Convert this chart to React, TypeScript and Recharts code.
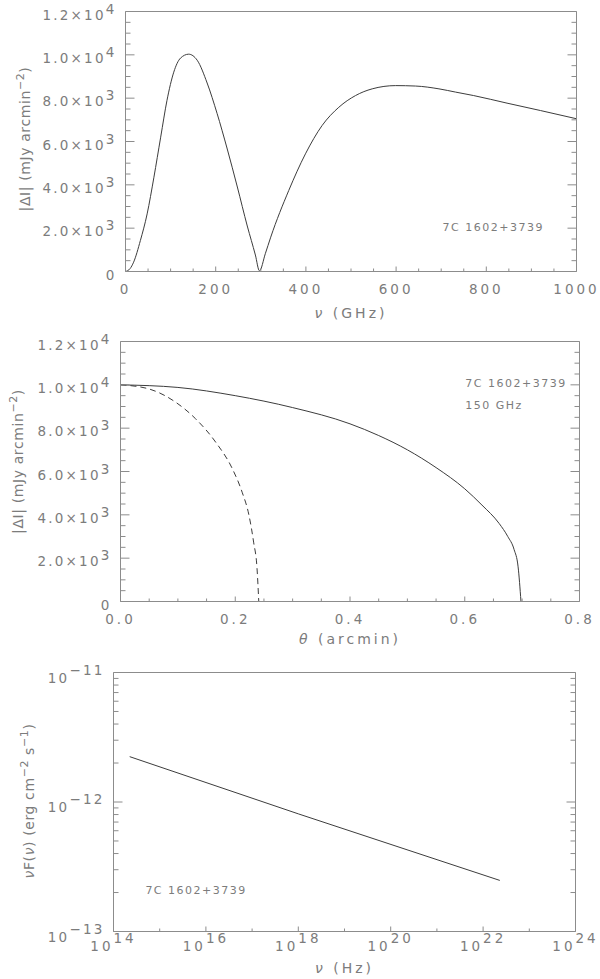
import { LineChart, Line, XAxis, YAxis, ReferenceDot } from 'recharts'

const AXIS = '#8c8c8c'
const TEXT = '#7c7c7c'
const INK = '#3c3c3c'
const FONT = '"DejaVu Sans", Verdana, sans-serif'

// top panel: |ΔI| against frequency
const specNu = [0, 10, 18, 33, 48, 63, 78, 92, 107, 122, 140, 159, 181, 203, 225, 248, 270, 288, 297, 310, 322, 362, 399, 436, 473, 510, 547, 599, 643, 695, 732, 772, 846, 920, 1000]
const specDI = [0, 130, 430, 1430, 2660, 4350, 6200, 7900, 9200, 9850, 10030, 9750, 8700, 7300, 5700, 3900, 2100, 760, 30, 820, 1585, 3740, 5430, 6740, 7580, 8120, 8430, 8580, 8560, 8430, 8280, 8120, 7770, 7430, 7050]

// middle panel: radial profiles at 150 GHz
const profTheta = [0, 0.1, 0.2, 0.3, 0.4, 0.45, 0.5, 0.55, 0.6, 0.63, 0.66, 0.675, 0.686, 0.693, 0.698]
const profDI = [10000, 9880, 9500, 8950, 8200, 7660, 7000, 6180, 5200, 4450, 3600, 3000, 2400, 1600, 0]
const coreTheta = [0, 0.049, 0.096, 0.131, 0.166, 0.195, 0.212, 0.224, 0.232, 0.238, 0.241]
const coreDI = [10000, 9815, 9200, 8430, 7350, 6125, 5045, 3970, 2740, 1510, 0]

// bottom panel: nu F(nu)
const sedNu = [2.24e14, 1.0e18, 2.3e22]
const sedFlux = [2.24e-12, 8.1e-13, 2.48e-13]

// ticks
const freqTicks = [0, 200, 400, 600, 800, 1000]
const freqLabels = ['0', '200', '400', '600', '800', '1000']
const freqMinor = [50, 100, 150, 250, 300, 350, 450, 500, 550, 650, 700, 750, 850, 900, 950]
const diTicks = [0, 2000, 4000, 6000, 8000, 10000, 12000]
const diLabels = ['0', '2.0×10^3', '4.0×10^3', '6.0×10^3', '8.0×10^3', '1.0×10^4', '1.2×10^4']
const diMinor = [500, 1000, 1500, 2500, 3000, 3500, 4500, 5000, 5500, 6500, 7000, 7500, 8500, 9000, 9500, 10500, 11000, 11500]
const thetaTicks = [0, 0.2, 0.4, 0.6, 0.8]
const thetaLabels = ['0.0', '0.2', '0.4', '0.6', '0.8']
const thetaMinor = [0.05, 0.1, 0.15, 0.25, 0.3, 0.35, 0.45, 0.5, 0.55, 0.65, 0.7, 0.75]
const hzTicks = [1e14, 1e16, 1e18, 1e20, 1e22, 1e24]
const hzLabels = ['10^14', '10^16', '10^18', '10^20', '10^22', '10^24']
const hzMinor = [1e15, 1e17, 1e19, 1e21, 1e23]
const fluxTicks = [1e-13, 1e-12, 1e-11]
const fluxLabels = ['10^−13', '10^−12', '10^−11']
const fluxMinor = [2e-13, 3e-13, 4e-13, 5e-13, 6e-13, 7e-13, 8e-13, 9e-13, 2e-12, 3e-12, 4e-12, 5e-12, 6e-12, 7e-12, 8e-12, 9e-12]

type Seg = { t: string; sup?: boolean; i?: boolean }

const nuGHz: Seg[] = [{ t: 'ν', i: true }, { t: ' (GHz)' }]
const thetaTitle: Seg[] = [{ t: 'θ', i: true }, { t: ' (arcmin)' }]
const nuHz: Seg[] = [{ t: 'ν', i: true }, { t: ' (Hz)' }]
const diTitle: Seg[] = [{ t: '|ΔI| (mJy arcmin' }, { t: '−2', sup: true }, { t: ')' }]
const fluxTitle: Seg[] = [{ t: 'ν', i: true }, { t: 'F(' }, { t: 'ν', i: true }, { t: ') (erg cm' }, { t: '−2', sup: true }, { t: ' s' }, { t: '−1', sup: true }, { t: ')' }]

const same = (a: number, b: number) => a === b || Math.abs(a - b) <= 1e-6 * Math.max(Math.abs(a), Math.abs(b))

function spans(segs: Seg[], rise: number, supSize?: number) {
  let up = false
  return segs.map((s, k) => {
    let dy = 0
    if (s.sup && !up) { dy = -rise; up = true }
    else if (!s.sup && up) { dy = rise; up = false }
    return (
      <tspan key={k} dy={dy || undefined} fontStyle={s.i ? 'italic' : undefined} fontSize={s.sup ? supSize : undefined}>
        {s.t}
      </tspan>
    )
  })
}

const parseTick = (label: string): Seg[] => {
  const [base, exp] = label.split('^')
  return exp ? [{ t: base }, { t: exp, sup: true }] : [{ t: base }]
}

type Side = 'bottom' | 'top' | 'left' | 'right'

function axisTick(side: Side, majors: number[], labels: string[] | null, major: number, minor: number, o: { off?: number; dy?: number; rise?: number } = {}) {
  return (props: any) => {
    const { x, y, payload } = props
    const idx = majors.findIndex((m) => same(m, payload.value))
    const len = idx >= 0 ? major : minor
    let x2 = x
    let y2 = y
    if (side === 'bottom') y2 = y - len
    else if (side === 'top') y2 = y + len
    else if (side === 'left') x2 = x + len
    else x2 = x - len
    const label = labels && idx >= 0 ? labels[idx] : null
    return (
      <g>
        <line x1={x} y1={y} x2={x2} y2={y2} stroke={AXIS} strokeWidth={1} />
        {label !== null && side === 'bottom' && (
          <text x={x} y={y + (o.dy ?? 22)} textAnchor="middle" style={{ fontFamily: FONT, fontSize: 13.5, letterSpacing: 3, fill: TEXT }}>
            {spans(parseTick(label), o.rise ?? 6)}
          </text>
        )}
        {label !== null && side === 'left' && (
          <text x={x - (o.off ?? 9)} y={y + (o.dy ?? 8)} textAnchor="end" style={{ fontFamily: FONT, fontSize: 13.5, letterSpacing: 2.2, fill: TEXT }}>
            {spans(parseTick(label), o.rise ?? 6)}
          </text>
        )}
      </g>
    )
  }
}

const xTitle = (segs: Seg[], dy: number) => ({
  content: ({ viewBox }: any) => (
    <text x={viewBox.x + viewBox.width / 2} y={viewBox.y + dy} textAnchor="middle" style={{ fontFamily: FONT, fontSize: 14, letterSpacing: 3, fill: TEXT }}>
      {spans(segs, 6)}
    </text>
  ),
})

const yTitle = (segs: Seg[], dx: number, dy: number) => ({
  content: ({ viewBox }: any) => {
    const cx = viewBox.x + dx
    const cy = viewBox.y + viewBox.height / 2 + dy
    return (
      <text x={cx} y={cy} transform={`rotate(-90 ${cx} ${cy})`} textAnchor="middle" style={{ fontFamily: FONT, fontSize: 14, letterSpacing: 0.6, fill: TEXT }}>
        {spans(segs, 6, 11)}
      </text>
    )
  },
})

const note = (text: string) => ({
  content: ({ viewBox }: any) => (
    <text x={viewBox.x} y={viewBox.y} style={{ fontFamily: FONT, fontSize: 11, letterSpacing: 1.5, fill: TEXT }}>
      {text}
    </text>
  ),
})

const toPoints = (xs: number[], ys: number[]) => xs.map((x, i) => ({ x, y: ys[i] }))

const axisCommon = {
  type: 'number' as const,
  interval: 0 as const,
  tickSize: 0,
  tickMargin: 0,
  tickLine: false,
  allowDataOverflow: true,
  axisLine: { stroke: AXIS, strokeWidth: 1 },
}

export default function App() {
  return (
    <div style={{ position: 'absolute', left: 0, top: 0, width: 600, height: 979, background: '#fff' }}>
      <div style={{ position: 'absolute', left: 0, top: 0 }}>
        <LineChart width={600} height={320} margin={{ top: 10.5, right: 22.5, bottom: 47.5, left: 124.5 }}>
          <XAxis {...axisCommon} dataKey="x" domain={[0, 1000]} height={1} ticks={[...freqTicks, ...freqMinor]}
            tick={axisTick('bottom', freqTicks, freqLabels, 5, 3)} label={xTitle(nuGHz, 46)} />
          <XAxis {...axisCommon} xAxisId="top" orientation="top" domain={[0, 1000]} height={1} ticks={[...freqTicks, ...freqMinor]}
            tick={axisTick('top', freqTicks, null, 5, 3)} />
          <YAxis {...axisCommon} domain={[0, 12000]} width={1} ticks={[...diTicks, ...diMinor]}
            tick={axisTick('left', diTicks, diLabels, 9, 5)} label={yTitle(diTitle, -94.5, -2.5)} />
          <YAxis {...axisCommon} yAxisId="right" orientation="right" domain={[0, 12000]} width={1} ticks={[...diTicks, ...diMinor]}
            tick={axisTick('right', diTicks, null, 9, 5)} />
          <Line data={toPoints(specNu, specDI)} dataKey="y" type="monotone" stroke={INK} strokeWidth={1} dot={false} isAnimationActive={false} />
          <ReferenceDot x={703} y={1890} r={0} fill="none" stroke="none" label={note('7C 1602+3739')} />
        </LineChart>
      </div>

      <div style={{ position: 'absolute', left: 0, top: 320 }}>
        <LineChart width={600} height={340} margin={{ top: 20.5, right: 19.5, bottom: 57.5, left: 119.5 }}>
          <XAxis {...axisCommon} dataKey="x" domain={[0, 0.8]} height={1} ticks={[...thetaTicks, ...thetaMinor]}
            tick={axisTick('bottom', thetaTicks, thetaLabels, 5, 3)} label={xTitle(thetaTitle, 42)} />
          <XAxis {...axisCommon} xAxisId="top" orientation="top" domain={[0, 0.8]} height={1} ticks={[...thetaTicks, ...thetaMinor]}
            tick={axisTick('top', thetaTicks, null, 5, 3)} />
          <YAxis {...axisCommon} domain={[0, 12000]} width={1} ticks={[...diTicks, ...diMinor]}
            tick={axisTick('left', diTicks, diLabels, 9, 5)} label={yTitle(diTitle, -96.5, -10)} />
          <YAxis {...axisCommon} yAxisId="right" orientation="right" domain={[0, 12000]} width={1} ticks={[...diTicks, ...diMinor]}
            tick={axisTick('right', diTicks, null, 9, 5)} />
          <Line data={toPoints(profTheta, profDI)} dataKey="y" type="monotone" stroke={INK} strokeWidth={1} dot={false} isAnimationActive={false} />
          <Line data={toPoints(coreTheta, coreDI)} dataKey="y" type="monotone" stroke={INK} strokeWidth={1} strokeDasharray="6 4" dot={false} isAnimationActive={false} />
          <ReferenceDot x={0.601} y={9920} r={0} fill="none" stroke="none" label={note('7C 1602+3739')} />
          <ReferenceDot x={0.601} y={8905} r={0} fill="none" stroke="none" label={note('150 GHz')} />
        </LineChart>
      </div>

      <div style={{ position: 'absolute', left: 0, top: 650 }}>
        <LineChart width={600} height={329} margin={{ top: 21.5, right: 23.5, bottom: 46.5, left: 112.5 }}>
          <XAxis {...axisCommon} dataKey="x" scale="log" domain={[1e14, 1e24]} height={1} ticks={[...hzTicks, ...hzMinor]}
            tick={axisTick('bottom', hzTicks, hzLabels, 5, 3, { dy: 19, rise: 8 })} label={xTitle(nuHz, 41)} />
          <XAxis {...axisCommon} xAxisId="top" orientation="top" scale="log" domain={[1e14, 1e24]} height={1} ticks={[...hzTicks, ...hzMinor]}
            tick={axisTick('top', hzTicks, null, 5, 3)} />
          <YAxis {...axisCommon} scale="log" domain={[1e-13, 1e-11]} width={1} ticks={[...fluxTicks, ...fluxMinor]}
            tick={axisTick('left', fluxTicks, fluxLabels, 9, 5, { dy: 10, rise: 8 })} label={yTitle(fluxTitle, -78.5, -1)} />
          <YAxis {...axisCommon} yAxisId="right" orientation="right" scale="log" domain={[1e-13, 1e-11]} width={1} ticks={[...fluxTicks, ...fluxMinor]}
            tick={axisTick('right', fluxTicks, null, 9, 5)} />
          <Line data={toPoints(sedNu, sedFlux)} dataKey="y" type="linear" stroke={INK} strokeWidth={1} dot={false} isAnimationActive={false} />
          <ReferenceDot x={4.9e14} y={1.96e-13} r={0} fill="none" stroke="none" label={note('7C 1602+3739')} />
        </LineChart>
      </div>
    </div>
  )
}
